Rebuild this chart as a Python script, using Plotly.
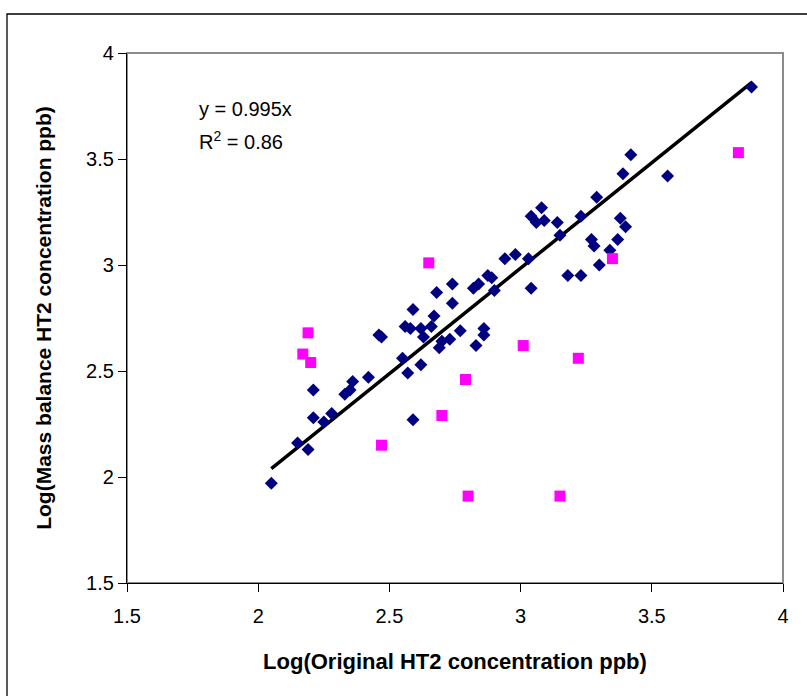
import plotly.graph_objects as go

# Blue diamonds: Log(Original) vs Log(Mass balance)
blue_x = [2.05, 2.15, 2.19, 2.21, 2.21, 2.25, 2.28, 2.33, 2.35, 2.36, 2.42, 2.46, 2.47,
          2.55, 2.57, 2.62, 2.59, 2.56, 2.58, 2.59, 2.62, 2.63, 2.66, 2.67, 2.68, 2.69,
          2.70, 2.73, 2.74, 2.74, 2.77, 2.82, 2.84, 2.875, 2.89, 2.90, 2.83, 2.86, 2.86,
          2.94, 2.98, 3.03, 3.04, 3.04, 3.06, 3.08, 3.09, 3.14, 3.15, 3.23, 3.29, 3.39,
          3.42, 3.38, 3.40, 3.37, 3.27, 3.28, 3.34, 3.30, 3.18, 3.23, 3.56, 3.88]
blue_y = [1.97, 2.16, 2.13, 2.28, 2.41, 2.26, 2.30, 2.39, 2.41, 2.45, 2.47, 2.67, 2.66,
          2.56, 2.49, 2.53, 2.27, 2.71, 2.70, 2.79, 2.70, 2.66, 2.71, 2.76, 2.87, 2.61,
          2.64, 2.65, 2.91, 2.82, 2.69, 2.89, 2.91, 2.95, 2.94, 2.88, 2.62, 2.67, 2.70,
          3.03, 3.05, 3.03, 2.89, 3.23, 3.20, 3.27, 3.21, 3.20, 3.14, 3.23, 3.32, 3.43,
          3.52, 3.22, 3.18, 3.12, 3.12, 3.09, 3.07, 3.00, 2.95, 2.95, 3.42, 3.84]

# Magenta squares
pink_x = [2.19, 2.17, 2.20, 2.47, 2.65, 3.01, 2.79, 2.70, 2.80, 3.15, 3.22, 3.35, 3.83]
pink_y = [2.68, 2.58, 2.54, 2.15, 3.01, 2.62, 2.46, 2.29, 1.91, 1.91, 2.56, 3.03, 3.53]

slope = 0.995
trend_x = [min(blue_x), max(blue_x)]
trend_y = [slope * v for v in trend_x]

tick_vals = [1.5, 2, 2.5, 3, 3.5, 4]
tick_text = ["1.5", "2", "2.5", "3", "3.5", "4"]

FONT = "Liberation Sans, Arial, sans-serif"

fig = go.Figure()
fig.add_trace(go.Scatter(x=trend_x, y=trend_y, mode="lines",
                         line=dict(color="black", width=3.5), showlegend=False,
                         hoverinfo="skip"))
fig.add_trace(go.Scatter(x=blue_x, y=blue_y, mode="markers",
                         marker=dict(symbol="diamond", size=10, color="#000080",
                                     line=dict(width=0)),
                         showlegend=False))
fig.add_trace(go.Scatter(x=pink_x, y=pink_y, mode="markers",
                         marker=dict(symbol="square", size=11, color="#FF00FF",
                                     line=dict(width=0)),
                         showlegend=False))

axis_common = dict(
    showgrid=False, zeroline=False, showline=True, linecolor="black", linewidth=1.3,
    ticks="outside", ticklen=8, tickwidth=1, tickcolor="black",
    tickfont=dict(family=FONT, size=20, color="black"),
    tickmode="array", tickvals=tick_vals, ticktext=tick_text,
    range=[1.5, 4], mirror=False,
)

fig.update_layout(
    width=807, height=696,
    margin=dict(l=127, r=24, t=53, b=113),
    paper_bgcolor="white", plot_bgcolor="white",
    xaxis=dict(**axis_common, ticklabelstandoff=7,
               title=dict(text="<b>Log(Original HT2 concentration ppb)</b>",
                          font=dict(family=FONT, size=22, color="black"), standoff=27)),
    yaxis=dict(**axis_common,
               title=dict(text="<b>Log(Mass balance HT2 concentration ppb)</b>",
                          font=dict(family=FONT, size=21, color="black"), standoff=28)),
    shapes=[
        # plot area frame (top/right grey)
        dict(type="rect", xref="paper", yref="paper", x0=0, y0=0, x1=1, y1=1,
             line=dict(color="#8c8c8c", width=2), layer="below"),
        # outer chart border
        dict(type="rect", xref="paper", yref="paper",
             x0=(7 - 127) / 656, y0=(583 - 14) / 530, x1=(812 - 127) / 656, y1=(583 - 702) / 530,
             line=dict(color="black", width=1.3)),
    ],
    annotations=[
        dict(x=1.768, y=3.735, xref="x", yref="y", xanchor="left", yanchor="middle",
             text="y = 0.995x", showarrow=False,
             font=dict(family=FONT, size=20, color="black")),
        dict(x=1.768, y=3.585, xref="x", yref="y", xanchor="left", yanchor="middle",
             text="R<sup>2</sup> = 0.86", showarrow=False,
             font=dict(family=FONT, size=20, color="black")),
    ],
)

fig.write_html("out.html")
